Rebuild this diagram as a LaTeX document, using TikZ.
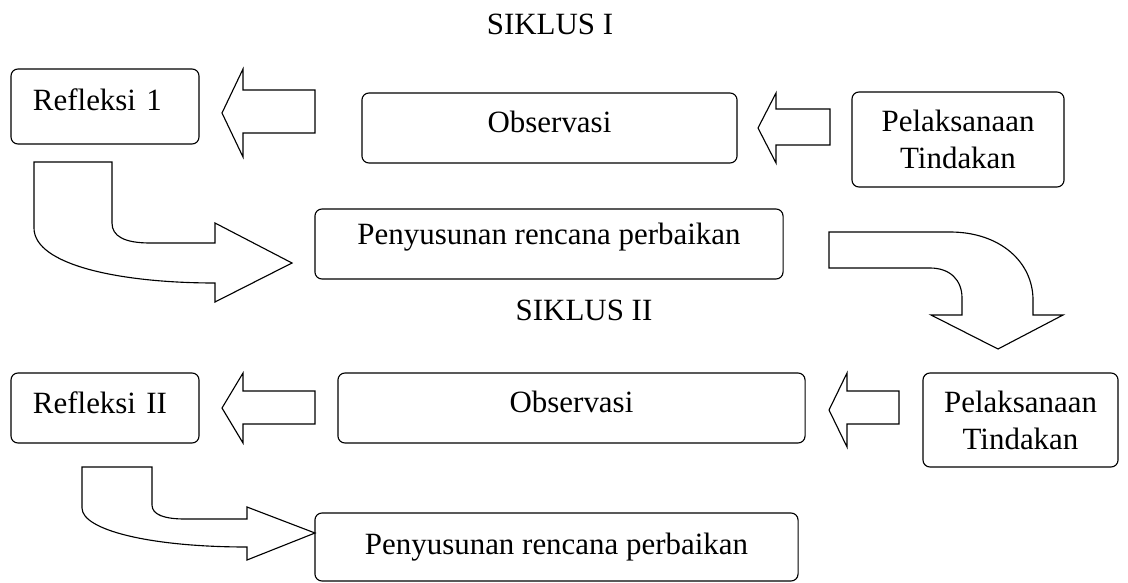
\documentclass[tikz,border=0pt]{standalone}
\usepackage{fontspec}
\setmainfont{Liberation Serif}
\tikzset{
    stage/.style={draw, rounded corners=5pt, inner sep=0pt, line width=0.8pt},
    blockarrow/.style={draw, fill=white, line width=0.8pt, line join=miter},
}
\begin{document}
\begin{tikzpicture}[x=0.025cm, y=-0.025cm, font=\fontsize{22}{26.3}\selectfont]
    \useasboundingbox (0,0) rectangle (1128,583);
    % siklus I
    \node (sik1) at (550,24) {SIKLUS I};
    \draw[blockarrow] (315,90) -- (243,90) -- (243,69) -- (222,113) -- (243,157) -- (243,133) -- (315,133) -- cycle;
    \draw[blockarrow] (830,109) -- (776,109) -- (776,93) -- (758,128) -- (776,163) -- (776,145) -- (830,145) -- cycle;
    \draw[blockarrow] (34,162) -- (112,162) -- (112,223) .. controls (112,236) and (124,243) .. (150,243) -- (215,243) -- (215,223) -- (292,263) -- (215,302) -- (215,283) .. controls (120,283) and (34,265) .. (34,228) -- cycle;
    \draw[blockarrow] (829,232) -- (950,232) .. controls (1000,232) and (1033,262) .. (1033,300) -- (1033,315) -- (1063,315) -- (998,349) -- (931,315) -- (962,315) -- (962,298) .. controls (962,280) and (950,268) .. (930,268) -- (829,268) -- cycle;
    \node[stage, minimum width=4.7cm, minimum height=1.875cm, text width=3.6cm, align=left, text height=16pt, text depth=9.6pt] (ref1) at (105,106.5) {Refleksi 1};
    \node[stage, minimum width=9.375cm, minimum height=1.75cm, text height=16pt, text depth=8.9pt] (obs1) at (549.5,128) {Observasi};
    \node[stage, minimum width=5.3cm, minimum height=2.375cm, align=center] (pel1) at (958,139.5) {Pelaksanaan\\Tindakan};
    \node[stage, minimum width=11.7cm, minimum height=1.75cm, text height=16pt, text depth=14.6pt] (pen1) at (549,244) {Penyusunan rencana perbaikan};
    % siklus II
    \node (sik2) at (584,310) {SIKLUS II};
    \draw[blockarrow] (315,391) -- (243,391) -- (243,373) -- (222,408) -- (243,443) -- (243,424) -- (315,424) -- cycle;
    \draw[blockarrow] (899,391) -- (847,391) -- (847,373) -- (829,410) -- (847,447) -- (847,424) -- (899,424) -- cycle;
    \draw[blockarrow] (82,467) -- (152,467) -- (152,505) .. controls (152,515) and (165,519) .. (185,519) -- (247,519) -- (247,507) -- (315,533) -- (247,560) -- (247,547) .. controls (150,547) and (82,530) .. (82,508) -- cycle;
    \node[stage, minimum width=4.7cm, minimum height=1.75cm, text width=3.6cm, align=left, text height=16pt, text depth=7.5pt] (ref2) at (105,408) {Refleksi II};
    \node[stage, minimum width=11.675cm, minimum height=1.75cm, text height=16pt, text depth=8.9pt] (obs2) at (571.5,408) {Observasi};
    \node[stage, minimum width=4.875cm, minimum height=2.35cm, align=center] (pel2) at (1020.5,420) {Pelaksanaan\\Tindakan};
    \node[stage, minimum width=12.075cm, minimum height=1.7cm, text height=16pt, text depth=5.3pt] (pen2) at (556.5,547) {Penyusunan rencana perbaikan};
\end{tikzpicture}
\end{document}
